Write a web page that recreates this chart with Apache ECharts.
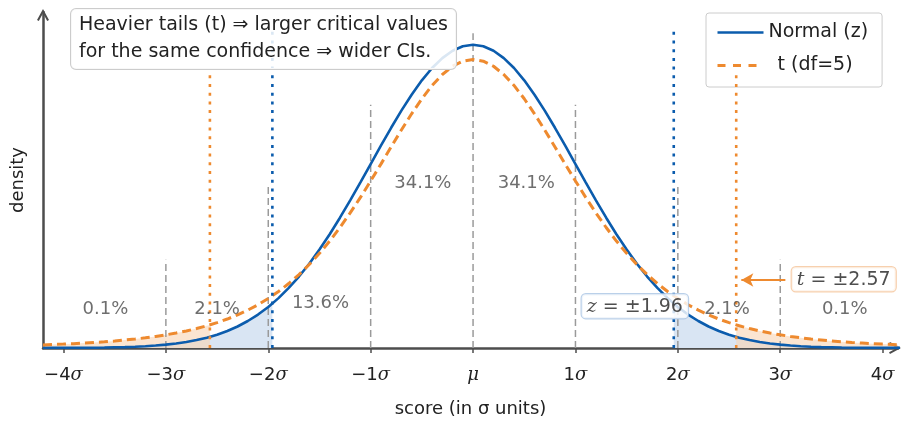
<!DOCTYPE html>
<html><head><meta charset="utf-8">
<script src="https://cdn.jsdelivr.net/npm/echarts@6/dist/echarts.min.js"></script>
<style>html,body{margin:0;padding:0;background:#fff}#c{width:901px;height:421px}</style>
</head><body><div id="c"></div>
<script>
// ---- data ----
const xVals = [-4.2,-4.1,-4.0,-3.9,-3.8,-3.7,-3.6,-3.5,-3.4,-3.3,-3.2,-3.1,-3.0,-2.9,-2.8,-2.7,-2.6,-2.5,-2.4,-2.3,-2.2,-2.1,-2.0,-1.9,-1.8,-1.7,-1.6,-1.5,-1.4,-1.3,-1.2,-1.1,-1.0,-0.9,-0.8,-0.7,-0.6,-0.5,-0.4,-0.3,-0.2,-0.1,0,
 0.1,0.2,0.3,0.4,0.5,0.6,0.7,0.8,0.9,1.0,1.1,1.2,1.3,1.4,1.5,1.6,1.7,1.8,1.9,2.0,2.1,2.2,2.3,2.4,2.5,2.6,2.7,2.8,2.9,3.0,3.1,3.2,3.3,3.4,3.5,3.6,3.7,3.8,3.9,4.0,4.1,4.2];
const normalY = [0.0001,0.0001,0.0001,0.0002,0.0003,0.0004,0.0006,0.0009,0.0012,0.0017,0.0024,0.0033,0.0044,0.0060,0.0079,0.0104,0.0136,0.0175,0.0224,0.0283,0.0355,0.0440,0.0540,0.0656,0.0790,0.0940,0.1109,0.1295,0.1497,0.1714,0.1942,0.2179,0.2420,0.2661,0.2897,0.3123,0.3332,0.3521,0.3683,0.3814,0.3910,0.3970,0.3989,
 0.3970,0.3910,0.3814,0.3683,0.3521,0.3332,0.3123,0.2897,0.2661,0.2420,0.2179,0.1942,0.1714,0.1497,0.1295,0.1109,0.0940,0.0790,0.0656,0.0540,0.0440,0.0355,0.0283,0.0224,0.0175,0.0136,0.0104,0.0079,0.0060,0.0044,0.0033,0.0024,0.0017,0.0012,0.0009,0.0006,0.0004,0.0003,0.0002,0.0001,0.0001,0.0001];
const tY = [0.0041,0.0046,0.0051,0.0057,0.0065,0.0073,0.0082,0.0092,0.0105,0.0118,0.0134,0.0152,0.0173,0.0197,0.0224,0.0256,0.0292,0.0333,0.0381,0.0436,0.0498,0.0569,0.0651,0.0743,0.0848,0.0966,0.1098,0.1245,0.1407,0.1585,0.1777,0.1981,0.2197,0.2419,0.2645,0.2868,0.3081,0.3279,0.3454,0.3598,0.3706,0.3773,0.3796,
 0.3773,0.3706,0.3598,0.3454,0.3279,0.3081,0.2868,0.2645,0.2419,0.2197,0.1981,0.1777,0.1585,0.1407,0.1245,0.1098,0.0966,0.0848,0.0743,0.0651,0.0569,0.0498,0.0436,0.0381,0.0333,0.0292,0.0256,0.0224,0.0197,0.0173,0.0152,0.0134,0.0118,0.0105,0.0092,0.0082,0.0073,0.0065,0.0057,0.0051,0.0046,0.0041];
const zCrit = 1.96, zCritY = 0.0584;
const tCrit = 2.57, tCritY = 0.0304;
const guideX = [-3,-2,-1,0,1,2,3];
const guideTop = [0.116,0.217,0.32,0.414,0.32,0.217,0.116];
const zLineTop = 0.418, tLineTop = 0.359;
const tickVals = [-4,-3,-2,-1,0,1,2,3,4];
const tickLabels = ['−4σ','−3σ','−2σ','−1σ','μ','1σ','2σ','3σ','4σ'];
const pctX = [-3.59,-2.5,-1.49,-0.49,0.52,2.48,3.63];
const pctY = [0.051,0.051,0.059,0.217,0.217,0.051,0.051];
const pctText = ['0.1%','2.1%','13.6%','34.1%','34.1%','2.1%','0.1%'];

const BLUE = '#0b5cad', ORANGE = '#ee8a2f', FONT = '"DejaVu Sans", sans-serif';
const MATH = '"DejaVu Serif", serif';
const CHEVRON = 'path://M0,11 L6,0 L12,11 L10.2,11.9 L6,4.2 L1.8,11.9 Z';
const pts = (ys) => xVals.map((x,i)=>[x, ys[i]]);
const tail = (ys, c, cy, side) => {
  const arr = xVals.map((x,i)=>[x, ys[i]]).filter(p => side<0 ? p[0] <= -c : p[0] >= c);
  if (side<0) arr.push([-c, cy]); else arr.unshift([c, cy]);
  return arr;
};
const fillSeries = (data, color, opacity) => ({
  type:'line', data, symbol:'none', silent:true, z:1,
  lineStyle:{width:0}, areaStyle:{color, opacity}
});
const vline = (x, top, color, type, width, z) => ({
  type:'line', data:[[x,0],[x,top]], symbol:'none', silent:true, z,
  lineStyle:{color, type, width, cap:'butt'}
});

const series = [
  fillSeries(tail(normalY, zCrit, zCritY, -1), '#d9e5f3', 1),
  fillSeries(tail(normalY, zCrit, zCritY, 1), '#d9e5f3', 1),
  fillSeries(tail(tY, tCrit, tCritY, -1), '#f8d3b3', 0.6),
  fillSeries(tail(tY, tCrit, tCritY, 1), '#f8d3b3', 0.6),
];
guideX.forEach((x,i)=>series.push(vline(x, guideTop[i], '#9a9a9a', [7,4], 1.5, 2)));
series.push({name:'Normal (z)', type:'line', data:pts(normalY), symbol:'none', showSymbol:false, z:5,
  lineStyle:{color:BLUE, width:2.6}, itemStyle:{color:BLUE}});
series.push({name:'t (df=5)', type:'line', data:pts(tY), symbol:'none', showSymbol:false, z:6,
  lineStyle:{color:ORANGE, width:3, type:[9,5]}, itemStyle:{color:ORANGE},
  markLine:{silent:true, symbol:['none','arrow'], symbolSize:[10,12], label:{show:false},
    lineStyle:{color:ORANGE, type:'solid', width:2.2},
    data:[[{coord:[3.05,0.0895]},{coord:[2.62,0.0895]}]]}});
[-zCrit, zCrit].forEach(x=>series.push(vline(x, zLineTop, BLUE, [3,5.7], 2.6, 7)));
[-tCrit, tCrit].forEach(x=>series.push(vline(x, tLineTop, ORANGE, [3,5.7], 2.6, 7)));
series.push({type:'scatter', symbolSize:0, silent:true, z:8,
  data: pctX.map((x,i)=>[x, pctY[i], pctText[i]]),
  label:{show:true, position:'inside', formatter:p=>p.value[2], color:'#4a4a4a', fontSize:18, fontFamily:FONT}});
series.push({type:'scatter', symbolSize:0, silent:true, z:9,
  data:[
    {value:[1.58,0.055,'z'], label:{borderColor:'#a9c4e4'}},
    {value:[3.62,0.0905,'t'], label:{borderColor:'#f5c49a'}}
  ],
  label:{show:true, position:'inside',
    formatter:p=> p.value[2]==='z' ? '{i|z} = ±1.96' : '{i|t} = ±2.57',
    color:'#222', fontSize:19, fontFamily:FONT, backgroundColor:'#fff',
    borderWidth:1.2, borderRadius:4, padding:[3,5,2,5],
    rich:{i:{fontStyle:'italic', fontFamily:MATH, fontSize:19, color:'#222'}}}});

const chart = echarts.init(document.getElementById('c'), null, {renderer:'canvas'});
chart.setOption({
  animation:false,
  grid:{left:43, right:3, top:12, bottom:73, outerBoundsMode:'none', containLabel:false},
  xAxis:{type:'value', min:-4.2, max:4.15,
    name:'score (in σ units)', nameLocation:'middle', nameGap:52,
    nameTextStyle:{fontSize:18, color:'#222', fontFamily:FONT},
    axisLine:{lineStyle:{color:'#4d4d4d', width:2.5}, symbol:['none',CHEVRON], symbolSize:[12,12], symbolOffset:[0,-3]},
    axisTick:{show:true, customValues:tickVals, length:5, lineStyle:{color:'#4d4d4d', width:1.5}},
    axisLabel:{customValues:tickVals, margin:18, color:'#222', fontSize:18, fontFamily:FONT,
      formatter:v=>{const s=tickLabels[tickVals.indexOf(Math.round(v))]||''; return s.replace(/([σμ])/,'{m|$1}');},
      rich:{m:{fontStyle:'italic', fontFamily:MATH, fontSize:18, color:'#222'}}},
    splitLine:{show:false}},
  yAxis:{type:'value', min:0, max:0.442,
    name:'density', nameLocation:'middle', nameGap:16, nameRotate:90,
    nameTextStyle:{fontSize:18, color:'#222', fontFamily:FONT},
    axisLine:{show:true, onZero:false, lineStyle:{color:'#4d4d4d', width:2.5}, symbol:['none',CHEVRON], symbolSize:[12,12], symbolOffset:[0,-3]},
    axisTick:{show:false}, axisLabel:{show:false}, splitLine:{show:false}},
  legend:{left:706, top:13, orient:'vertical', itemWidth:46, itemHeight:14, itemGap:14,
    backgroundColor:'#fff', borderColor:'#cccccc', borderWidth:1, borderRadius:3, padding:[10,14,12,10],
    itemStyle:{opacity:0, color:'rgba(0,0,0,0)', borderWidth:0},
    textStyle:{fontSize:19, color:'#222', fontFamily:FONT, rich:{p:{width:9}}},
    formatter:n=> n==='t (df=5)' ? '{p|}'+n : n,
    data:[{name:'Normal (z)', lineStyle:{width:2.7}},{name:'t (df=5)', lineStyle:{type:[8,7.5], width:3}}]},
  graphic:[{type:'text', left:70, top:8, z:100,
    style:{text:'Heavier tails (t) ⇒ larger critical values\nfor the same confidence ⇒ wider CIs.',
      font:'19px '+FONT, fill:'#222', lineHeight:27,
      backgroundColor:'rgba(255,255,255,0.85)', borderColor:'#cccccc', borderWidth:1, borderRadius:5, padding:[3,8,3,8]}}],
  series
});
</script></body></html>
